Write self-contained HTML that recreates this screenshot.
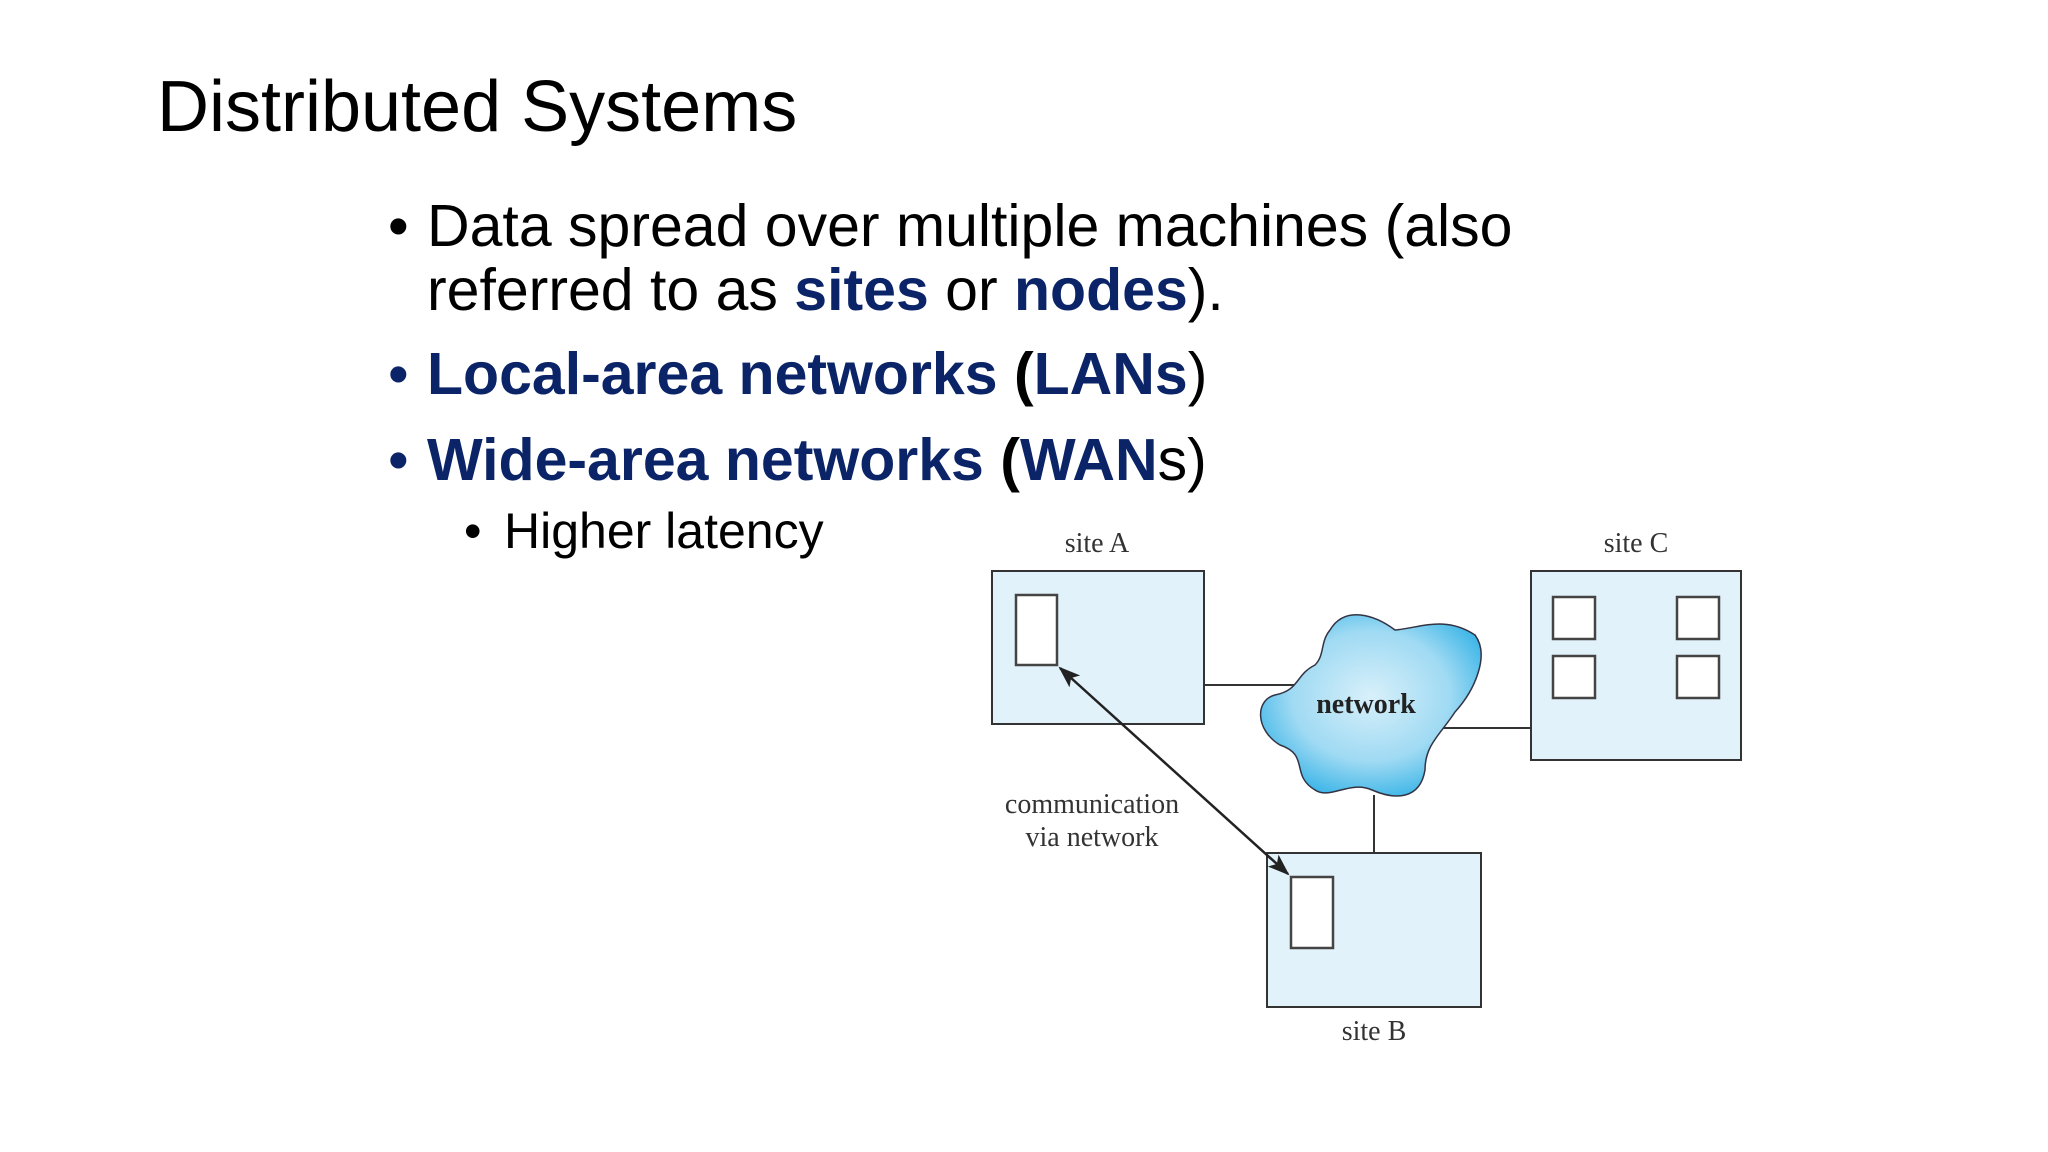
<!DOCTYPE html>
<html><head><meta charset="utf-8"><style>
html,body{margin:0;padding:0;background:#fff;}
body{width:2048px;height:1152px;position:relative;overflow:hidden;font-family:"Liberation Sans",sans-serif;color:#000;}
.t{position:absolute;white-space:nowrap;line-height:1;}
.b{color:#0b2468;font-weight:bold;}
</style></head><body>
<div class="t" style="left:157px;top:71px;font-size:72px;">Distributed Systems</div>
<div class="t" style="left:388px;top:197px;font-size:59px;">•</div>
<div class="t" style="left:427px;top:197px;font-size:59px;">Data spread over multiple machines (also</div>
<div class="t" style="left:427px;top:261px;font-size:59px;">referred to as <span class="b">sites</span> or <span class="b">nodes</span>).</div>
<div class="t" style="left:388px;top:345px;font-size:59px;color:#0b2468">•</div>
<div class="t" style="left:427px;top:345px;font-size:59px;"><span class="b">Local-area networks</span> <b>(</b><span class="b">LANs</span>)</div>
<div class="t" style="left:388px;top:431px;font-size:59px;color:#0b2468">•</div>
<div class="t" style="left:427px;top:431px;font-size:59px;"><span class="b">Wide-area networks</span> <b>(</b><span class="b">WAN</span>s)</div>
<div class="t" style="left:464px;top:506px;font-size:50px;">•</div>
<div class="t" style="left:504px;top:506px;font-size:50px;">Higher latency</div>
<svg style="position:absolute;left:0;top:0" width="2048" height="1152">
<defs>
<radialGradient id="g" cx="0.5" cy="0.45" r="0.6">
<stop offset="0" stop-color="#d8f0fa"/><stop offset="0.6" stop-color="#9fdaf3"/><stop offset="1" stop-color="#33b2e6"/>
</radialGradient>
<marker id="ah" markerWidth="22" markerHeight="16" refX="20" refY="8" orient="auto-start-reverse" markerUnits="userSpaceOnUse" viewBox="0 0 22 16">
<path d="M0,0 L22,8 L0,16 L5,8 z" fill="#222"/></marker>
</defs>
<g stroke="#333" stroke-width="2" fill="#e1f2fa">
<line x1="1204" y1="685" x2="1300" y2="685"/>
<line x1="1440" y1="728" x2="1531" y2="728"/>
<line x1="1374" y1="795" x2="1374" y2="853"/>
<rect x="992" y="571" width="212" height="153"/>
<rect x="1531" y="571" width="210" height="189"/>
<rect x="1267" y="853" width="214" height="154"/>
<g fill="#fff" stroke="#444" stroke-width="2.5">
<rect x="1016" y="595" width="41" height="70"/>
<rect x="1553" y="597" width="42" height="42"/>
<rect x="1677" y="597" width="42" height="42"/>
<rect x="1553" y="656" width="42" height="42"/>
<rect x="1677" y="656" width="42" height="42"/>
<rect x="1291" y="877" width="42" height="71"/>
</g>
<path d="M1330,630 C1345,605 1375,615 1395,630 C1420,628 1445,615 1475,635 C1490,655 1475,690 1455,712 C1440,735 1425,745 1425,770 C1420,800 1395,800 1372,790 C1350,780 1330,800 1315,790 C1290,775 1310,755 1280,745 C1255,730 1255,700 1275,695 C1300,690 1295,675 1315,665 C1325,655 1320,642 1330,630 Z" fill="url(#g)" stroke="#334" stroke-width="1.5"/>
</g>
<line x1="1060" y1="668" x2="1288" y2="874" stroke="#222" stroke-width="2.5" marker-start="url(#ah)" marker-end="url(#ah)"/>
<g font-family="Liberation Serif,serif" font-size="28" fill="#333" text-anchor="middle">
<text x="1097" y="552">site A</text>
<text x="1636" y="552">site C</text>
<text x="1374" y="1040">site B</text>
<text x="1366" y="713" font-weight="bold" fill="#222">network</text>
<text x="1092" y="813">communication</text>
<text x="1092" y="846">via network</text>
</g>
</svg>
</body></html>
